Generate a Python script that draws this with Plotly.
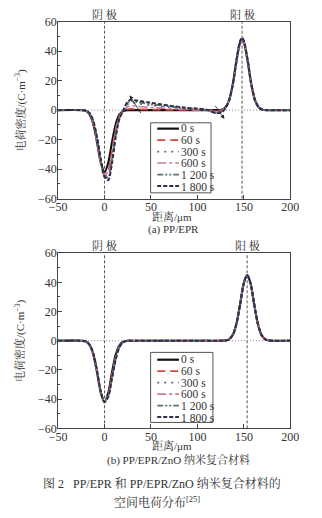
import plotly.graph_objects as go

# ---------------- data ----------------
series_names = ["0 s", "60 s", "300 s", "600 s", "1 200 s", "1 800 s"]

# (a) PP/EPR
xa = [-50, -25, -20, -16, -12, -8, -4, 0, 4, 8, 12, 16, 20, 24, 28, 35, 50, 70, 90, 110,
      120, 126, 130, 134, 138, 142, 146, 148, 150, 154, 158, 162, 166, 170, 175, 200]
ya_0 = [0, 0, -0.5, -3.1, -9.7, -21.9, -35.7, -42, -35.7, -21.9, -9.7, -3.1, -0.7, 0, 0, 0, 0, 0, 0, 0,
        0, 0.3, 1.8, 6.5, 17.3, 33.3, 46.1, 48, 46.1, 33.3, 17.3, 6.5, 1.8, 0.3, 0, 0]
ya_60 = [0, 0, -0.5, -3.0, -9.5, -21.5, -36, -44.5, -41, -28, -13, -4, -0.5, 0.5, 0.8, 0.6, 0.4, 0.2, 0.1, 0,
         -0.3, 0, 1.5, 6.2, 17, 33, 46, 47.5, 46, 33.5, 17.5, 6.5, 1.8, 0.3, 0, 0]
ya_300 = [0, 0, -0.4, -2.5, -8.5, -20, -35, -45, -44, -32, -16, -5, -0.5, 3.5, 5, 4.5, 3.3, 2, 1, 0,
          -1.5, -0.5, 1.8, 6.5, 17, 32.5, 45.5, 47, 45.5, 33, 17.5, 6.5, 1.8, 0.3, 0, 0]
ya_600 = [0, 0, -0.5, -2.8, -9, -21, -35, -43.5, -41.5, -30, -14, -4.5, -0.5, 2, 3, 2.5, 1.8, 1, 0.5, 0,
          -1, -0.3, 1.6, 6.3, 17, 33, 46, 47.5, 46, 33.5, 17.5, 6.5, 1.8, 0.3, 0, 0]
ya_1200 = [0, 0, -0.4, -2.3, -8, -19.5, -34, -45.5, -45.5, -34, -17, -5.5, -0.5, 4.5, 6, 5.5, 4, 2.5, 1.2, 0,
           -1.8, -1, 1.5, 6.5, 17.5, 33.5, 46.5, 48.5, 46.5, 34, 18, 7, 2, 0.3, 0, 0]
ya_1800 = [0, 0, -0.3, -2, -7.5, -18.5, -33, -45, -47.5, -36, -18.5, -6, -0.5, 5, 7, 6.5, 5, 3, 1.5, 0.3,
           -2, -1.5, 1.2, 6.5, 17.5, 34, 47, 49, 47, 34.5, 18, 7, 2, 0.3, 0, 0]
ya = [ya_0, ya_60, ya_300, ya_600, ya_1200, ya_1800]

# (b) PP/EPR/ZnO
xb = [-50, -25, -20, -16, -12, -8, -4, 0, 4, 8, 12, 16, 20, 24, 28, 35, 60, 100, 125,
      130, 134, 138, 142, 146, 150, 153.5, 157, 161, 165, 169, 173, 178, 200]
yb_0 = [0, 0, -0.5, -3.1, -9.7, -21.9, -35.7, -42, -35.7, -21.9, -9.7, -3.1, -0.7, 0, 0, 0, 0, 0, 0,
        0.2, 0.9, 3.9, 11.7, 25.3, 39.7, 45, 39.7, 25.3, 11.7, 3.9, 0.9, 0.1, 0]
yb_60 = [0, 0, -0.5, -3.0, -9.5, -21.5, -35.5, -42, -37, -24, -11, -3.5, -0.8, -0.1, 0, 0, 0, 0, 0,
         0.2, 0.9, 3.9, 11.7, 25.3, 39.7, 45, 39.7, 25.3, 11.7, 3.9, 0.9, 0.1, 0]
yb_300 = [0, 0, -0.5, -2.9, -9.3, -21.2, -35.3, -42, -37.5, -25, -12, -4, -1, -0.2, 0, 0, 0, 0, 0,
          0.2, 0.9, 3.9, 11.7, 25.3, 39.7, 45, 39.7, 25.3, 11.7, 3.9, 0.9, 0.1, 0]
yb_600 = [0, 0, -0.5, -3.0, -9.5, -21.5, -35.5, -42, -37, -24.5, -11.5, -3.8, -0.9, -0.1, 0, 0, 0, 0, 0,
          0.2, 0.9, 3.9, 11.7, 25.3, 39.7, 45, 39.7, 25.3, 11.7, 3.9, 0.9, 0.1, 0]
yb_1200 = [0, 0, -0.4, -2.8, -9.0, -21, -35, -42, -38, -25.5, -12.5, -4.2, -1.1, -0.2, 0, 0, 0, 0, 0,
           0.2, 0.9, 3.9, 11.7, 25.3, 39.7, 45, 39.7, 25.3, 11.7, 3.9, 0.9, 0.1, 0]
yb_1800 = [0, 0, -0.4, -2.7, -8.8, -20.8, -34.8, -42, -38.5, -26, -13, -4.5, -1.2, -0.2, 0, 0, 0, 0, 0,
           0.2, 0.9, 3.9, 11.7, 25.3, 39.7, 45, 39.7, 25.3, 11.7, 3.9, 0.9, 0.1, 0]
yb = [yb_0, yb_60, yb_300, yb_600, yb_1200, yb_1800]

cathode_a, anode_a = 0, 148
cathode_b, anode_b = 0, 153.5

x_ticks = [-50, 0, 50, 100, 150, 200]
y_ticks = [-60, -40, -20, 0, 20, 40, 60]

# ---------------- styles ----------------
colors = ["#111111", "#d9463f", "#5a6f8e", "#c87c9c", "#5e7562", "#2b2d52"]
dashes = ["solid", "8px,5px", "2px,5px", "dashdot", "6px,2px,2px,2px,2px,2px", "4px,2px"]
widths = [2.2, 1.8, 1.8, 1.6, 1.8, 2.0]

FONT = "Liberation Serif, Noto Serif CJK SC, Noto Sans CJK SC, serif"
TXT = "#333333"
W, H = 322, 518

fig = go.Figure()
for i, name in enumerate(series_names):
    fig.add_trace(go.Scatter(x=xa, y=ya[i], name=name, mode="lines", showlegend=False,
                             line=dict(color=colors[i], dash=dashes[i], width=widths[i],
                                       shape="spline", smoothing=0.8),
                             xaxis="x", yaxis="y"))
for i, name in enumerate(series_names):
    fig.add_trace(go.Scatter(x=xb, y=yb[i], name=name, mode="lines", showlegend=False,
                             line=dict(color=colors[i], dash=dashes[i], width=widths[i],
                                       shape="spline", smoothing=0.8),
                             xaxis="x2", yaxis="y2"))

xd = [52 / W, 298 / W]
yd_a = [1 - 197 / H, 1 - 15 / H]
yd_b = [1 - 433 / H, 1 - 253 / H]

axis_common = dict(showgrid=False, zeroline=False, showline=True, linecolor="#444",
                   linewidth=1, mirror=True, ticks="inside", ticklen=4, tickcolor="#444",
                   tickfont=dict(family=FONT, size=12, color=TXT))
xax = dict(axis_common, range=[-50, 200], tickvals=x_ticks, domain=xd, ticklabelstandoff=-3)
yax = dict(axis_common, range=[-60, 60], tickvals=y_ticks, ticklabelstandoff=-2,
           minor=dict(ticks="inside", ticklen=2, dtick=10, tickcolor="#444"))

fig.update_layout(
    width=W, height=H, margin=dict(l=0, r=0, t=0, b=0),
    paper_bgcolor="white", plot_bgcolor="white", showlegend=False,
    xaxis=dict(xax, anchor="y"),
    yaxis=dict(yax, domain=yd_a, anchor="x"),
    xaxis2=dict(xax, anchor="y2"),
    yaxis2=dict(yax, domain=yd_b, anchor="x2"),
)

# reference lines
for xr, yr, cat, an in [("x", "y", cathode_a, anode_a), ("x2", "y2", cathode_b, anode_b)]:
    for xv in (cat, an):
        fig.add_shape(type="line", xref=xr, yref=yr, x0=xv, x1=xv, y0=-60, y1=60,
                      line=dict(color="#555", width=1, dash="3px,2px"), layer="below")
    fig.add_shape(type="line", xref=xr, yref=yr, x0=-50, x1=200, y0=0, y1=0,
                  line=dict(color="#888", width=1, dash="1px,2px"), layer="below")

# arrows in (a)
fig.add_annotation(x=27, y=10, ax=40, ay=-3, xref="x", yref="y", axref="x", ayref="y",
                   showarrow=True, arrowhead=2, arrowsize=1, arrowwidth=0.8, arrowcolor="#222", text="")
fig.add_annotation(x=129, y=-6, ax=118, ay=4, xref="x", yref="y", axref="x", ayref="y",
                   showarrow=True, arrowhead=2, arrowsize=1, arrowwidth=0.8, arrowcolor="#222", text="")


def px_x(p):
    return p / W


def px_y(p):
    return 1 - p / H


def txt(text, x, y, size=11, xref="paper", angle=0, xanchor="center", yanchor="middle"):
    fig.add_annotation(text=text, x=x, y=y, xref=xref, yref="paper", showarrow=False,
                       font=dict(family=FONT, size=size, color=TXT), textangle=angle,
                       xanchor=xanchor, yanchor=yanchor, borderpad=0)


# compact legends (drawn as shapes + one multi-line text block)
def legend_box(left, top, right, bottom, row0, step):
    fig.add_shape(type="rect", xref="paper", yref="paper",
                  x0=px_x(left), x1=px_x(right), y0=px_y(bottom), y1=px_y(top),
                  line=dict(color="#555", width=1), fillcolor="white", layer="above")
    for i in range(len(series_names)):
        ry = row0 + i * step
        fig.add_shape(type="line", xref="paper", yref="paper",
                      x0=px_x(left + 7), x1=px_x(left + 30), y0=px_y(ry), y1=px_y(ry),
                      line=dict(color=colors[i], dash=dashes[i], width=widths[i]), layer="above")
    label = "<br>".join('<span style="font-size:11.5px">%s</span>' % n for n in series_names)
    mid = row0 + step * (len(series_names) - 1) / 2
    fig.add_annotation(text=label, x=px_x(left + 31), y=px_y(mid + 0.5), xref="paper", yref="paper",
                       showarrow=False, align="left", xanchor="left", yanchor="middle",
                       font=dict(family=FONT, size=step / 1.3, color=TXT), borderpad=0)


legend_box(150, 119, 214, 191, 125, 11.8)
legend_box(150, 355, 216, 427, 362.5, 11.8)

# electrode labels
txt("阴 极", cathode_a, px_y(8), xref="x")
txt("阳 极", anode_a, px_y(8), xref="x")
txt("阴 极", cathode_b, px_y(245), xref="x2")
txt("阳 极", anode_b, px_y(245), xref="x2")

# axis titles
txt("电荷密度/(C·m<sup>−3</sup>)", px_x(12), (yd_a[0] + yd_a[1]) / 2, angle=-90)
txt("电荷密度/(C·m<sup>−3</sup>)", px_x(12), (yd_b[0] + yd_b[1]) / 2, angle=-90)
txt("距离/μm", px_x(173), px_y(216))
txt("距离/μm", px_x(173), px_y(451))

# captions
txt("(a) PP/EPR", px_x(174), px_y(229))
txt("(b) PP/EPR/ZnO 纳米复合材料", px_x(180), px_y(466))
txt("图 2   PP/EPR 和 PP/EPR/ZnO 纳米复合材料的", px_x(162), px_y(490), size=12)
txt("空间电荷分布<sup>[25]</sup>", px_x(157), px_y(509), size=12)

fig.write_html("out.html")
